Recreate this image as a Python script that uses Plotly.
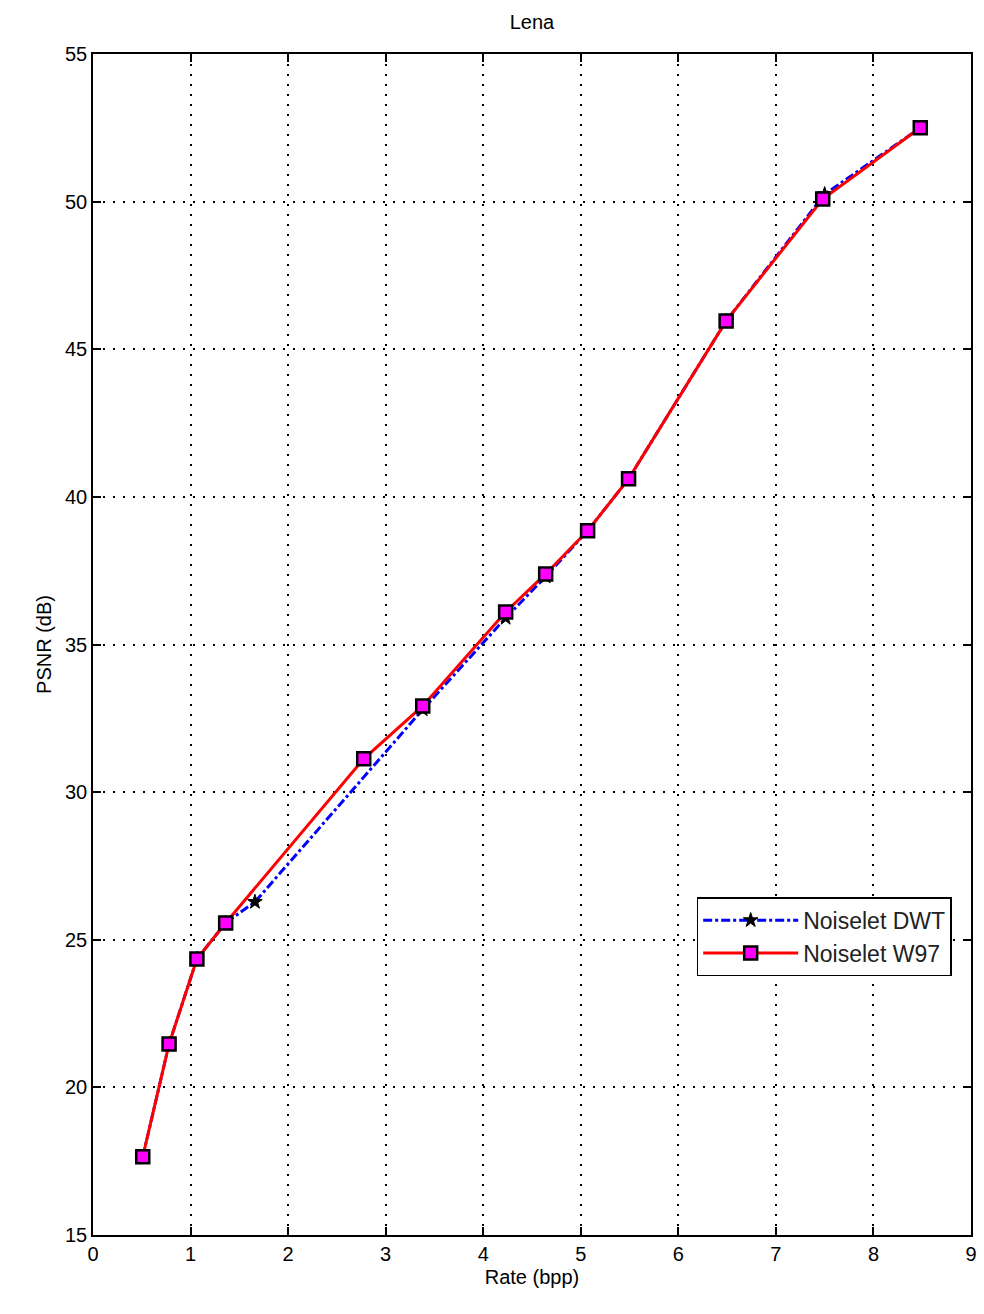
import plotly.graph_objects as go

rate_dwt = [0.51, 0.78, 1.065, 1.36, 1.66, 3.38, 4.23, 4.64, 5.07, 5.49, 6.49, 7.50, 8.48]
psnr_dwt = [17.65, 21.47, 24.35, 25.57, 26.28, 32.80, 35.90, 37.30, 38.85, 40.61, 45.96, 50.25, 52.50]

rate_w97 = [0.51, 0.78, 1.065, 1.36, 2.775, 3.38, 4.23, 4.64, 5.07, 5.49, 6.49, 7.48, 8.48]
psnr_w97 = [17.65, 21.47, 24.35, 25.57, 31.13, 32.92, 36.10, 37.39, 38.85, 40.61, 45.96, 50.09, 52.50]

x_ticks = list(range(0, 10))
y_ticks = list(range(15, 60, 5))

font_family = "Liberation Sans, Arial, sans-serif"

fig = go.Figure()
fig.add_trace(go.Scatter(
    x=rate_dwt, y=psnr_dwt, mode="lines+markers", name="Noiselet DWT",
    line=dict(color="#0000ff", width=3, dash="dashdot"),
    marker=dict(symbol="star", size=11, color="black", line=dict(color="black", width=1)),
))
fig.add_trace(go.Scatter(
    x=rate_w97, y=psnr_w97, mode="lines+markers", name="Noiselet W97",
    line=dict(color="#ff0000", width=3),
    marker=dict(symbol="square", size=13, color="#ff00ff", line=dict(color="black", width=2.5)),
))

axis_common = dict(
    showline=True, linecolor="black", linewidth=1.5, mirror="ticks",
    ticks="inside", ticklen=8, tickwidth=1.5, tickcolor="black",
    showgrid=True, gridcolor="black", gridwidth=1.5, griddash="1.5px,8.5px",
    zeroline=False, tickfont=dict(size=20, color="black", family=font_family),
)

fig.update_xaxes(range=[0, 9], tickvals=x_ticks, title=dict(text="Rate (bpp)", font=dict(size=20, color="black", family=font_family), standoff=6), **axis_common)
fig.update_yaxes(range=[15, 55], tickvals=y_ticks, title=dict(text="PSNR (dB)", font=dict(size=20, color="black", family=font_family), standoff=8), **axis_common)

fig.update_layout(
    width=984, height=1314,
    margin=dict(l=93, r=7, t=54, b=79),
    paper_bgcolor="white", plot_bgcolor="white",
    title=dict(text="Lena", x=0.5, xref="paper", xanchor="center", y=0.983, yanchor="middle",
               font=dict(size=20, color="black", family=font_family)),
    font=dict(family=font_family, color="black"),
    legend=dict(x=0.978, xanchor="right", y=0.286, yanchor="top",
                bordercolor="black", borderwidth=1.5, bgcolor="white",
                font=dict(size=23, color="#222222", family=font_family),
                itemwidth=95, tracegroupgap=4),
    showlegend=True,
)

fig.write_html("out.html")
